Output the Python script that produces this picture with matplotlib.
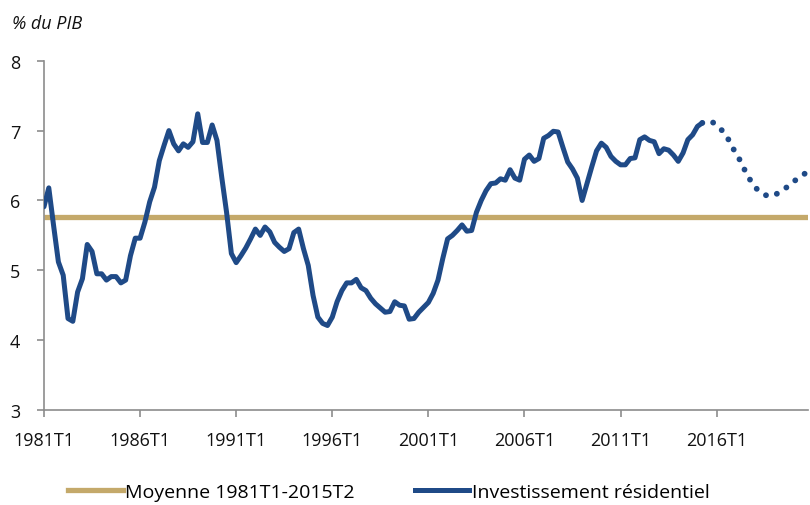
import matplotlib
matplotlib.use("Agg")
import matplotlib.pyplot as plt
from matplotlib.lines import Line2D

# Quarterly categories 1981T1 .. 2020T4
years = list(range(1981, 2021))
quarters = [f"{y}T{q}" for y in years for q in range(1, 5)]

# Investissement résidentiel (% du PIB), 1981T1 .. 2015T2 (observed)
invest = [5.91, 6.18, 5.64, 5.12, 4.93, 4.31, 4.27, 4.69, 4.88, 5.37,
          5.27, 4.95, 4.95, 4.86, 4.91, 4.91, 4.82, 4.86, 5.21, 5.46,
          5.46, 5.69, 5.98, 6.19, 6.57, 6.79, 7.00, 6.81, 6.71, 6.81,
          6.76, 6.84, 7.24, 6.83, 6.83, 7.08, 6.86, 6.33, 5.83, 5.24,
          5.11, 5.21, 5.32, 5.45, 5.59, 5.50, 5.62, 5.55, 5.40, 5.33,
          5.27, 5.31, 5.54, 5.59, 5.31, 5.07, 4.64, 4.33, 4.24, 4.21,
          4.33, 4.55, 4.71, 4.82, 4.82, 4.87, 4.75, 4.71, 4.60, 4.52,
          4.46, 4.40, 4.41, 4.55, 4.50, 4.49, 4.30, 4.31, 4.40, 4.47,
          4.54, 4.67, 4.86, 5.17, 5.45, 5.50, 5.57, 5.65, 5.56, 5.57,
          5.83, 6.00, 6.14, 6.24, 6.25, 6.31, 6.29, 6.44, 6.32, 6.29,
          6.59, 6.65, 6.56, 6.60, 6.89, 6.93, 6.99, 6.98, 6.76, 6.55,
          6.45, 6.32, 6.00, 6.24, 6.48, 6.71, 6.82, 6.76, 6.63, 6.56,
          6.51, 6.51, 6.60, 6.61, 6.87, 6.91, 6.86, 6.84, 6.67, 6.74,
          6.72, 6.65, 6.56, 6.68, 6.87, 6.94, 7.06, 7.11]

# Projection 2015T2 .. 2020T4 (dotted)
forecast = [7.11, 7.13, 7.13, 7.07, 7.01, 6.93, 6.80, 6.67, 6.56, 6.41,
            6.29, 6.19, 6.12, 6.08, 6.06, 6.08, 6.11, 6.16, 6.21, 6.27,
            6.32, 6.37, 6.41]

mean_value = 5.76
tick_labels = ["1981T1", "1986T1", "1991T1", "1996T1", "2001T1",
               "2006T1", "2011T1", "2016T1"]

BLUE = "#1F4A87"
GOLD = "#C4A96A"
GRAY = "#8C8C8C"
FONT = "Open Sans"

plt.rcParams['font.family'] = [FONT, 'DejaVu Sans']

fig = plt.figure(figsize=(8.10, 5.06), dpi=100)
ax = fig.add_axes([0.0543, 0.1877, 0.9432, 0.6903])

n = len(quarters)
x_all = list(range(n))
x_obs = x_all[:len(invest)]
x_fc = x_all[len(invest) - 1:len(invest) - 1 + len(forecast)]

ax.plot(x_all, [mean_value] * n, color=GOLD, lw=3.8, solid_capstyle='butt', zorder=2)
ax.plot(x_obs, invest, color=BLUE, lw=3.6, solid_capstyle='round',
        solid_joinstyle='round', zorder=3)
ax.plot(x_fc, forecast, color=BLUE, lw=4.2, linestyle=(0, (0.01, 1.95)),
        dash_capstyle='round', zorder=3)

ax.set_xlim(0, n - 1)
ax.set_ylim(3, 8)
ax.set_yticks([3, 4, 5, 6, 7, 8])
ax.set_xticks([quarters.index(t) for t in tick_labels])
ax.set_xticklabels(tick_labels)

for s in ['top', 'right']:
    ax.spines[s].set_visible(False)
for s in ['left', 'bottom']:
    ax.spines[s].set_color(GRAY)
    ax.spines[s].set_linewidth(1.2)
ax.tick_params(axis='both', colors=GRAY, labelcolor='#111111', labelsize=13,
               length=5, width=1.2, direction='out')
ax.tick_params(axis='x', pad=10)
ax.tick_params(axis='y', pad=12)

fig.text(0.015, 0.952, "% du PIB", fontsize=13, style='italic', color='#111111',
         ha='left', va='center')

handles = [Line2D([0], [0], color=GOLD, lw=3.8),
           Line2D([0], [0], color=BLUE, lw=3.6)]
fig.legend(handles, ["Moyenne 1981T1-2015T2", "Investissement résidentiel"],
           loc='center', bbox_to_anchor=(0.48, 0.026), ncol=2, frameon=False,
           fontsize=14, handlelength=2.8, handletextpad=0.12, columnspacing=3.1)

fig.savefig("out.png", dpi=100)
